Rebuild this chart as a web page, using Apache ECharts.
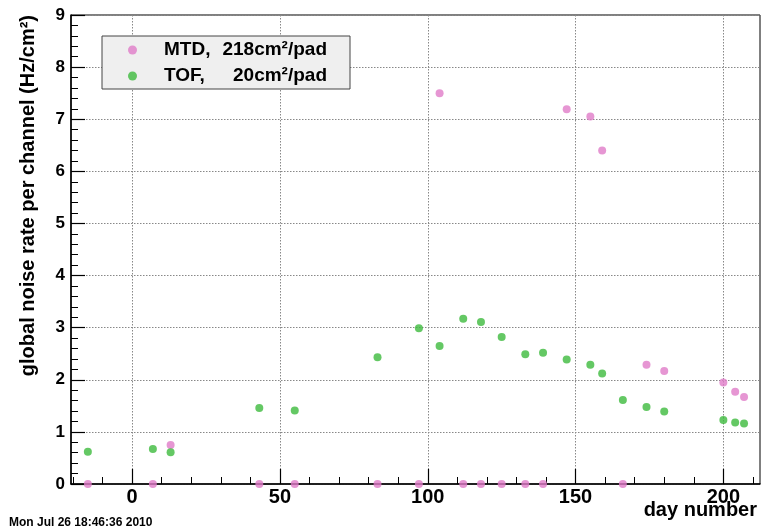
<!DOCTYPE html>
<html>
<head>
<meta charset="utf-8">
<script src="https://cdn.jsdelivr.net/npm/echarts@6/dist/echarts.min.js"></script>
<style>
html,body{margin:0;padding:0;background:#fff;}
#chart{width:761px;height:530px;}
</style>
</head>
<body>
<div id="chart"></div>
<script>
// ---- data ----
const days = [-15, 7, 13, 43, 55, 83, 97, 104, 112, 118, 125, 133, 139, 147, 155, 159, 166, 174, 180, 200, 204, 207];
const mtdRate = [0, 0, 0.75, 0, 0, 0, 0, 7.50, 0, 0, 0, 0, 0, 7.19, 7.05, 6.40, 0, 2.29, 2.17, 1.95, 1.77, 1.67];
const tofRate = [0.62, 0.67, 0.61, 1.46, 1.41, 2.43, 2.99, 2.65, 3.17, 3.11, 2.82, 2.49, 2.52, 2.39, 2.29, 2.12, 1.61, 1.48, 1.39, 1.23, 1.18, 1.16];
const xMajorTicks = [0, 50, 100, 150, 200];
const xMinorTicks = [-20, -10, 0, 10, 20, 30, 40, 50, 60, 70, 80, 90, 100, 110, 120, 130, 140, 150, 160, 170, 180, 190, 200, 210];
const seriesNames = ['MTD', 'TOF'];
const legendParts = { MTD: ['MTD,', '218cm²/pad'], TOF: ['TOF,', '20cm²/pad'] };
const xTitle = 'day number';
const yTitle = 'global noise rate per channel (Hz/cm²)';
const stamp = 'Mon Jul 26 18:46:36 2010';

const xMin = -20.7, xMax = 212.4;
const FONT = '"Liberation Sans", Arial, Helvetica, sans-serif';

const chart = echarts.init(document.getElementById('chart'), null, { renderer: 'canvas' });

const gridPos = { left: 71, right: 1, top: 15, bottom: 46 };

const option = {
  animation: false,
  backgroundColor: '#ffffff',
  textStyle: { fontFamily: FONT },
  grid: [
    Object.assign({ show: true, borderColor: '#000', borderWidth: 1, backgroundColor: 'transparent' }, gridPos),
    Object.assign({ show: false }, gridPos)
  ],
  legend: {
    data: seriesNames,
    orient: 'vertical',
    left: 102, top: 36,
    selectedMode: false,
    icon: 'circle',
    itemWidth: 9, itemHeight: 9,
    itemGap: 6,
    padding: [4, 23, 3, 26],
    backgroundColor: '#efefef',
    borderColor: '#444',
    borderWidth: 1,
    borderRadius: 0,
    formatter: function (name) {
      const p = legendParts[name];
      return '{s| }{a|' + p[0] + '}{b|' + p[1] + '}';
    },
    textStyle: {
      fontFamily: FONT, fontWeight: 'bold', fontSize: 19, color: '#000', lineHeight: 20,
      rich: {
        s: { width: 22, fontSize: 19, fontWeight: 'bold', fontFamily: FONT },
        a: { width: 56, align: 'left', fontSize: 19, fontWeight: 'bold', fontFamily: FONT, color: '#000' },
        b: { width: 107, align: 'right', fontSize: 19, fontWeight: 'bold', fontFamily: FONT, color: '#000' }
      }
    }
  },
  xAxis: [
    {
      type: 'value', gridIndex: 0, min: xMin, max: xMax,
      axisLine: { show: true, onZero: false, lineStyle: { color: '#000', width: 1.5 } },
      axisTick: { show: true, inside: true, length: 15, customValues: xMajorTicks, lineStyle: { color: '#000', width: 1.2 } },
      axisLabel: { show: true, customValues: xMajorTicks, margin: 3, fontSize: 20, fontWeight: 'bold', color: '#000', fontFamily: FONT },
      splitLine: { show: true, lineStyle: { color: '#888', type: [1.5, 1.5], width: 1 } }
    },
    {
      type: 'value', gridIndex: 1, min: xMin, max: xMax,
      axisLine: { show: false, onZero: false },
      axisTick: { show: true, inside: true, length: 7, customValues: xMinorTicks, lineStyle: { color: '#000', width: 1 } },
      axisLabel: { show: false },
      splitLine: { show: false }
    }
  ],
  yAxis: [
    {
      type: 'value', gridIndex: 0, min: 0, max: 9, interval: 1,
      axisLine: { show: true, onZero: false, lineStyle: { color: '#000', width: 1.5 } },
      axisTick: { show: true, inside: true, length: 14, lineStyle: { color: '#000', width: 1.2 } },
      minorTick: { show: true, splitNumber: 5, length: 7, lineStyle: { color: '#000', width: 1 } },
      axisLabel: { show: true, margin: 6, fontSize: 17, fontWeight: 'bold', color: '#000', fontFamily: FONT },
      splitLine: { show: true, lineStyle: { color: '#888', type: [1.5, 1.5], width: 1 } }
    },
    {
      type: 'value', gridIndex: 1, min: 0, max: 9, show: false
    }
  ],
  series: [
    {
      name: seriesNames[0], type: 'scatter', xAxisIndex: 0, yAxisIndex: 0,
      symbol: 'circle', symbolSize: 8, clip: false,
      itemStyle: { color: '#e07cc8' },
      data: days.map((d, i) => [d, mtdRate[i]]),
      z: 3
    },
    {
      name: seriesNames[1], type: 'scatter', xAxisIndex: 0, yAxisIndex: 0,
      symbol: 'circle', symbolSize: 8, clip: false,
      itemStyle: { color: '#3dba3d' },
      data: days.map((d, i) => [d, tofRate[i]]),
      z: 4
    }
  ],
  graphic: [
    {
      type: 'text', x: 28, y: 15, rotation: Math.PI / 2,
      style: { text: yTitle, align: 'right', verticalAlign: 'middle', fontSize: 20, fontWeight: 'bold', fontFamily: FONT, fill: '#000' }
    },
    {
      type: 'text', x: 757, y: 510,
      style: { text: xTitle, align: 'right', verticalAlign: 'middle', fontSize: 20, fontWeight: 'bold', fontFamily: FONT, fill: '#000' }
    },
    {
      type: 'text', x: 9, y: 523,
      style: { text: stamp, align: 'left', verticalAlign: 'middle', fontSize: 12, fontWeight: 'bold', fontFamily: FONT, fill: '#000' }
    }
  ]
};

chart.setOption(option);
</script>
</body>
</html>
